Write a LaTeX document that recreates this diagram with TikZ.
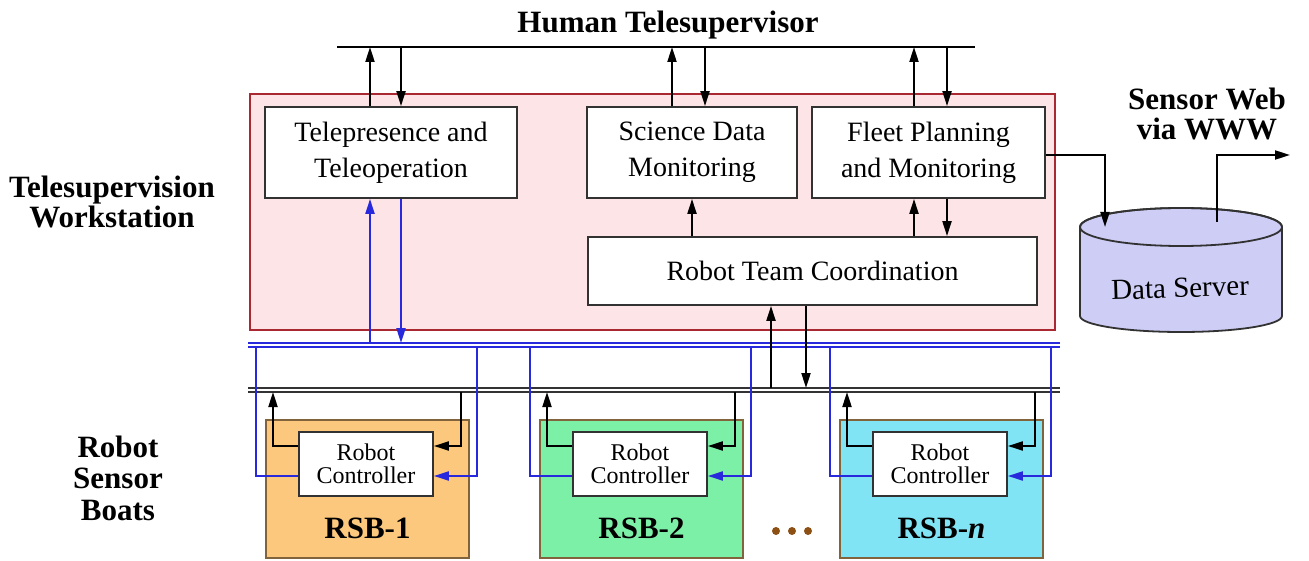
\documentclass[tikz,border=0pt]{standalone}
\usepackage{fontspec}
\setmainfont{Liberation Serif}
\usepackage{xcolor}
\usepackage{tikz}
\usetikzlibrary{arrows.meta,positioning}
\definecolor{wsfill}{RGB}{253,228,230}
\definecolor{wsline}{RGB}{170,40,50}
\definecolor{boxline}{RGB}{50,50,50}
\definecolor{busblue}{RGB}{40,40,220}
\definecolor{rsbA}{RGB}{252,200,125}
\definecolor{rsbB}{RGB}{125,240,168}
\definecolor{rsbC}{RGB}{128,228,244}
\definecolor{boatline}{RGB}{130,100,60}
\definecolor{dbfill}{RGB}{205,205,245}
\definecolor{dotbrown}{RGB}{140,80,20}

\begin{document}
\begin{tikzpicture}[x=1pt,y=-1pt,
  blk/.style={draw=boxline,fill=white,line width=1.8pt,align=center,inner sep=0pt,font=\fontsize{28}{36}\selectfont},
  ctrl/.style={blk,minimum width=134,minimum height=64,font=\fontsize{24}{23}\selectfont},
  boat/.style={draw=boatline,line width=1.6pt,minimum width=203,minimum height=138,inner sep=0pt},
  lbl/.style={align=center,inner sep=0pt,font=\fontsize{31}{30}\selectfont\bfseries},
  arr/.style={-{Triangle[length=15pt,width=9pt]},line width=2pt},
  barr/.style={arr,busblue},
  bline/.style={busblue,line width=1.8pt},
  bus/.style={line width=1.5pt,double,double distance=2.5pt}]
  \useasboundingbox (0,0) rectangle (1309,561);

  % workstation frame and its modules
  \node[draw=wsline,fill=wsfill,line width=1.6pt,minimum width=805,minimum height=236,inner sep=0pt] (ws) at (652.5,212) {};
  \node[blk,minimum width=252,minimum height=91] (tele) at (391,152.5) {Telepresence and\\Teleoperation};
  \node[blk,minimum width=210,minimum height=91] (sci) at (692,152.5) {Science Data\\Monitoring};
  \node[blk,minimum width=233,minimum height=91] (fleet) at (928.5,152.5) {Fleet Planning\\and Monitoring};
  \node[blk,minimum width=449,minimum height=68] (rtc) at (812.5,271) {Robot Team Coordination};

  % labels
  \node[lbl] (human) at (668,25) {Human Telesupervisor};
  \node[lbl] (wslbl) at (112,202) {Telesupervision\\Workstation};
  \node[lbl,font=\fontsize{31}{31.5}\selectfont\bfseries] (rsblbl) at (118,478) {Robot\\Sensor\\Boats};
  \node[lbl] (weblbl) at (1207,114) {Sensor Web\\via WWW};

  % supervisor line
  \coordinate (hbusL) at (337,47);
  \coordinate (hbusR) at (975,47);
  \draw[line width=1.5pt] (hbusL) -- (hbusR);
  \coordinate (h1u) at (370,47); \coordinate (h1d) at (401,47);
  \coordinate (h2u) at (672,47); \coordinate (h2d) at (705,47);
  \coordinate (h3u) at (914,47); \coordinate (h3d) at (947,47);
  \draw[arr] (tele.north -| h1u) -- (h1u);
  \draw[arr] (h1d) -- (tele.north -| h1d);
  \draw[arr] (sci.north -| h2u) -- (h2u);
  \draw[arr] (h2d) -- (sci.north -| h2d);
  \draw[arr] (fleet.north -| h3u) -- (h3u);
  \draw[arr] (h3d) -- (fleet.north -| h3d);

  % inside the workstation
  \draw[arr] (rtc.north -| sci) -- (sci.south);
  \draw[arr] (rtc.north -| h3u) -- (fleet.south -| h3u);
  \draw[arr] (fleet.south -| h3d) -- (rtc.north -| h3d);

  % data server
  \filldraw[fill=dbfill,draw=boxline,line width=1.8pt] (1080,227) -- (1080,316)
    arc[start angle=180,end angle=0,x radius=101,y radius=16] -- (1282,227)
    arc[start angle=0,end angle=-180,x radius=101,y radius=19] -- cycle;
  \draw[boxline,line width=1.8pt] (1181,227) ellipse[x radius=101,y radius=19];
  \node[font=\fontsize{29}{34}\selectfont,rotate=2] (db) at (1180,288) {Data Server};
  \coordinate (dbin) at (1105,227);
  \coordinate (dbout) at (1217,222);
  \coordinate (web) at (1290,155);
  \draw[arr] ([yshift=-3pt]fleet.east) -| (dbin);
  \draw[arr] (dbout) |- (web);

  % comm buses
  \draw[bus,busblue] (248,345) -- (1060,345);
  \draw[bus,black!80] (248,390) -- (1060,390);
  \coordinate (b1u) at (370,343); \coordinate (b1d) at (401,343);
  \draw[barr] (b1u) -- (tele.south -| b1u);
  \draw[barr] (tele.south -| b1d) -- (b1d);
  \coordinate (k1u) at (771,388); \coordinate (k1d) at (806,388);
  \draw[arr] (k1u) -- (rtc.south -| k1u);
  \draw[arr] (rtc.south -| k1d) -- (k1d);

  % boats
  \foreach \n/\dx/\col/\num in {1/0/rsbA/1, 2/274/rsbB/2, 3/574/rsbC/{\textit{n}}} {
    \node[boat,fill=\col] (boat\n) at (367.5+\dx,489) {};
    \node[ctrl] (ctrl\n) at (366+\dx,464) {Robot\\Controller};
    \node[lbl] (rsb\n) at (367.5+\dx,528) {RSB-\num};
    \coordinate (bl\n) at (256+\dx,347);
    \coordinate (kl\n) at (273+\dx,392);
    \coordinate (kr\n) at (461+\dx,392);
    \coordinate (br\n) at (477+\dx,347);
    \draw[bline] (bl\n) |- ([yshift=-12pt]ctrl\n.west);
    \draw[arr] ([yshift=18pt]ctrl\n.west) -| (kl\n);
    \draw[arr] (kr\n) |- ([yshift=18pt]ctrl\n.east);
    \draw[barr] (br\n) |- ([yshift=-12pt]ctrl\n.east);
  }
  \foreach \x in {776,792,808}
    \fill[dotbrown] (\x,531) circle[radius=4];
\end{tikzpicture}
\end{document}
